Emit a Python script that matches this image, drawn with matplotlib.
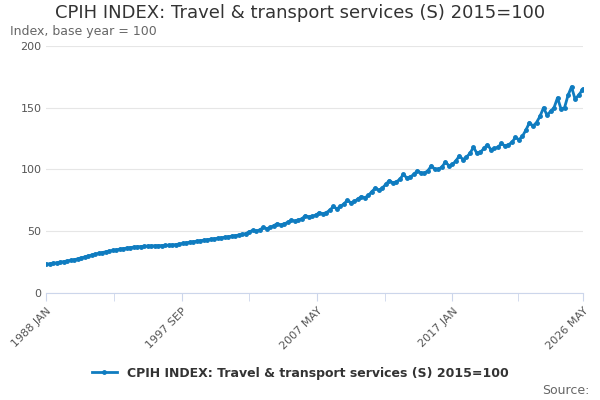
import numpy as np
import matplotlib.pyplot as plt

series_name = "CPIH INDEX: Travel & transport services (S) 2015=100"
start_year = 1988
# quarterly readings (Jan, Apr, Jul, Oct) from 1988 JAN
values = [
    23.2, 23.5, 23.9, 24.3, 24.8, 25.3, 25.8, 26.3, 26.8, 27.5, 28.3, 29.0,
    29.8, 30.6, 31.3, 32.0, 32.6, 33.2, 33.8, 34.3, 34.8, 35.3, 35.8, 36.2,
    36.6, 37.0, 37.3, 37.5, 37.7, 37.9, 38.0, 38.1, 38.2, 38.3, 38.4, 38.6,
    38.8, 39.1, 39.5, 40.0, 40.5, 41.0, 41.4, 41.8, 42.2, 42.6, 43.0, 43.4,
    43.8, 44.2, 44.6, 45.0, 45.4, 45.9, 46.3, 46.8, 47.3, 48.0, 49.5, 50.5,
    50.0, 51.0, 53.0, 52.0, 53.0, 54.5, 56.0, 55.0, 56.0, 57.0, 59.0, 58.0,
    59.0, 60.0, 62.5, 61.5, 62.0, 63.0, 65.0, 64.0, 65.0, 67.0, 70.0, 68.0,
    70.0, 72.0, 75.0, 73.0, 74.0, 76.0, 78.0, 77.0, 79.0, 82.0, 85.0, 83.0,
    85.0, 88.0, 91.0, 89.0, 90.0, 92.0, 96.0, 93.0, 94.0, 96.0, 99.0, 97.0,
    97.0, 99.0, 103.0, 100.0, 100.0, 102.0, 106.0, 103.0, 104.0, 107.0, 111.0, 108.0,
    110.0, 113.0, 118.0, 113.0, 114.0, 117.0, 120.0, 116.0, 117.0, 118.0, 121.0, 119.0,
    120.0, 122.0, 126.0, 124.0, 127.0, 132.0, 138.0, 135.0, 138.0, 143.0, 150.0, 144.0,
    147.0, 150.0, 158.0, 149.0, 150.0, 160.0, 167.0, 157.0, 160.0, 164.0,
]
last_value = 165.0  # 2026 MAY
tick_labels = ["1988 JAN", "1997 SEP", "2007 MAY", "2017 JAN", "2026 MAY"]
tick_months = [0, 116, 232, 348, 460]

x = list(np.arange(len(values)) * 3) + [460]
y = values + [last_value]

fig = plt.figure(figsize=(6, 4), dpi=100)
ax = fig.add_axes([0.077, 0.268, 0.895, 0.617])
color = "#0f7cc0"
ax.plot(x, y, color=color, lw=2, marker="o", ms=2.5)
ax.set_xlim(0, 460)
ax.set_ylim(0, 200)
ax.set_yticks([0, 50, 100, 150, 200])
ax.set_xticks(tick_months)
ax.set_xticks([58, 174, 290, 404], minor=True)
ax.set_xticklabels(tick_labels, rotation=45, ha="right", rotation_mode="anchor")
ax.tick_params(axis="both", labelsize=8, colors="#555555")
ax.tick_params(axis="y", length=0)
ax.tick_params(axis="x", which="both", color="#ccd6eb", length=6)
ax.grid(axis="y", color="#e6e6e6", lw=0.8)
for s in ["top", "right", "left"]:
    ax.spines[s].set_visible(False)
ax.spines["bottom"].set_color("#ccd6eb")

fig.text(0.5, 0.955, series_name, ha="center", fontsize=13, color="#333333")
fig.text(0.017, 0.913, "Index, base year = 100", fontsize=9, color="#666666")
ax.plot([], [], color=color, lw=2, marker="o", ms=2.5, label=series_name)
leg = fig.legend(loc="center", bbox_to_anchor=(0.5, 0.067), frameon=False,
                 prop={"size": 9, "weight": "bold"}, handlelength=2)
for t in leg.get_texts():
    t.set_color("#333333")
fig.text(0.982, 0.015, "Source:", ha="right", fontsize=9, color="#666666")

fig.savefig("out.png")
